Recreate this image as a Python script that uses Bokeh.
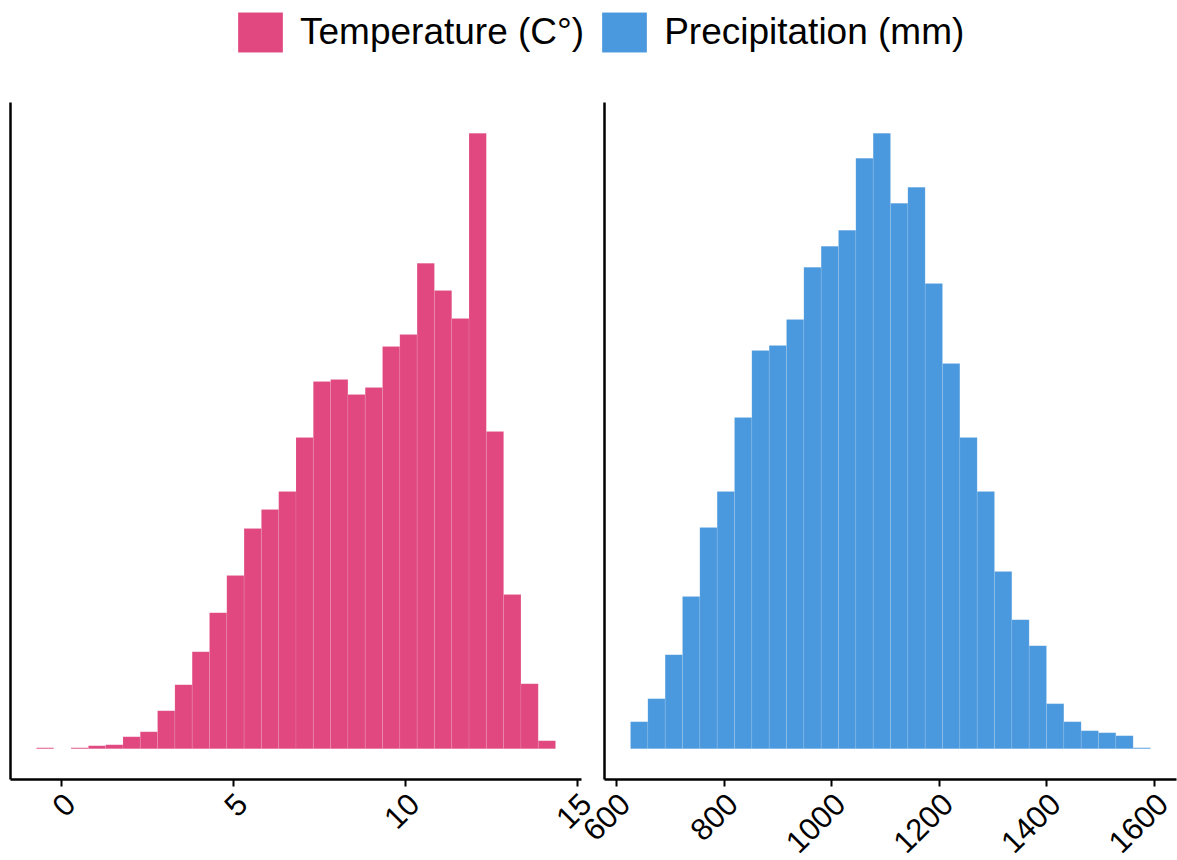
import numpy as np
from bokeh.plotting import figure
from bokeh.models import (Range1d, FixedTicker, Legend, LegendItem,
                          ColumnDataSource, LinearAxis)
from bokeh.embed import file_html
from bokeh.resources import INLINE

# ---------------- data ----------------
temp_counts = [1, 0, 1, 3, 4, 12, 17, 38, 64, 97, 136, 173, 220, 239, 257,
               311, 367, 369, 354, 361, 402, 414, 485, 458, 430, 615, 317,
               154, 65, 8]
temp_min, temp_max = -0.73, 14.36
temp_ticks = [0, 5, 10, 15]

precip_counts = [27, 50, 94, 152, 221, 257, 331, 398, 403, 429, 481, 502,
                 518, 590, 615, 545, 561, 465, 385, 311, 257, 177, 129, 103,
                 45, 27, 18, 16, 13, 1]
precip_min, precip_max = 626, 1592.5
precip_ticks = [600, 800, 1000, 1200, 1400, 1600]

series_names = ["Temperature (C°)", "Precipitation (mm)"]
colors = ["#E0487F", "#4A98DD"]

FONT = "Liberation Sans"

# ---------------- layout geometry (pixels, from top-left of the page) ----------------
FIG_W, FIG_H = 1177, 860
PANEL1_X = (10, 581)
PANEL2_X = (604, 1176)
PANEL_Y = (102, 779)      # top, bottom of both panels
LABEL_SHIFT = 8           # tick labels hang to the right of their tick (hjust=1 look)


def expanded(lo, hi, f=0.05):
    s = hi - lo
    return lo - f * s, hi + f * s


def x_frame_range(lo, hi, panel, shift=0):
    a, b = panel
    scale = (hi - lo) / (b - a)
    start = lo - (a + shift) * scale
    return Range1d(start, start + FIG_W * scale)


def y_frame_range(lo, hi, panel):
    t, b = panel
    scale = (hi - lo) / (b - t)
    end = hi + t * scale
    return Range1d(end - FIG_H * scale, end)


t_lo, t_hi = expanded(temp_min, temp_max)
p_lo, p_hi = expanded(precip_min, precip_max)
ty_lo, ty_hi = -0.05 * max(temp_counts), 1.05 * max(temp_counts)
py_lo, py_hi = -0.05 * max(precip_counts), 1.05 * max(precip_counts)

p = figure(width=FIG_W, height=FIG_H, output_backend="svg", toolbar_location=None,
           x_range=x_frame_range(t_lo, t_hi, PANEL1_X),
           y_range=y_frame_range(ty_lo, ty_hi, PANEL_Y),
           x_axis_location=None, y_axis_location=None, min_border=0)
p.extra_x_ranges = {
    "precip": x_frame_range(p_lo, p_hi, PANEL2_X),
    "temp_lbl": x_frame_range(t_lo, t_hi, PANEL1_X, LABEL_SHIFT),
    "precip_lbl": x_frame_range(p_lo, p_hi, PANEL2_X, LABEL_SHIFT),
}
p.extra_y_ranges = {"precip_y": y_frame_range(py_lo, py_hi, PANEL_Y)}
p.xgrid.visible = False
p.ygrid.visible = False
p.outline_line_color = None


def bars(counts, lo, hi, color, xr="default", yr="default"):
    counts = np.array(counts, dtype=float)
    edges = np.linspace(lo, hi, len(counts) + 1)
    src = ColumnDataSource(dict(left=edges[:-1], right=edges[1:],
                                top=counts, bottom=np.zeros(len(counts))))
    return p.quad(left="left", right="right", top="top", bottom="bottom", source=src,
                  fill_color=color, line_color="white", line_alpha=0.18, line_width=0.6,
                  x_range_name=xr, y_range_name=yr)


r1 = bars(temp_counts, temp_min, temp_max, colors[0])
r2 = bars(precip_counts, precip_min, precip_max, colors[1], "precip", "precip_y")


def x_line_axis(ticks, bounds, loc, xr, yr):
    ax = LinearAxis(x_range_name=xr, y_range_name=yr, bounds=bounds, fixed_location=loc)
    ax.ticker = FixedTicker(ticks=ticks)
    ax.axis_line_width = 2.5
    ax.axis_line_color = "black"
    ax.major_tick_line_width = 2
    ax.major_tick_line_color = "black"
    ax.major_tick_in = 0
    ax.major_tick_out = 7
    ax.minor_tick_line_color = None
    ax.major_label_overrides = {t: "" for t in ticks}
    ax.major_label_text_alpha = 0
    p.add_layout(ax, "below")


def x_label_axis(ticks, loc, xr, yr):
    ax = LinearAxis(x_range_name=xr, y_range_name=yr, fixed_location=loc)
    ax.ticker = FixedTicker(ticks=ticks)
    ax.axis_line_color = None
    ax.major_tick_line_color = None
    ax.minor_tick_line_color = None
    ax.major_tick_in = 0
    ax.major_tick_out = 7
    ax.major_label_orientation = np.pi / 4
    ax.major_label_text_font = FONT
    ax.major_label_text_font_size = "31px"
    ax.major_label_text_color = "black"
    ax.major_label_standoff = 12
    p.add_layout(ax, "below")


def y_line_axis(bounds, loc, xr, yr):
    ax = LinearAxis(x_range_name=xr, y_range_name=yr, bounds=bounds, fixed_location=loc)
    ax.ticker = FixedTicker(ticks=[])
    ax.axis_line_width = 2.5
    ax.axis_line_color = "black"
    ax.major_tick_out = 0
    ax.major_tick_in = 0
    ax.minor_tick_line_color = None
    ax.major_label_text_font_size = "0px"
    ax.major_label_standoff = 0
    p.add_layout(ax, "left")


x_line_axis(temp_ticks, (t_lo, t_hi), ty_lo, "default", "default")
x_label_axis(temp_ticks, ty_lo, "temp_lbl", "default")
x_line_axis(precip_ticks, (p_lo, p_hi), py_lo, "precip", "precip_y")
x_label_axis(precip_ticks, py_lo, "precip_lbl", "precip_y")
y_line_axis((ty_lo, ty_hi), t_lo, "default", "default")
y_line_axis((py_lo, py_hi), p_lo, "precip", "precip_y")

# ---------------- legend ----------------
leg = Legend(items=[LegendItem(label=series_names[0], renderers=[r1], index=0),
                    LegendItem(label=series_names[1], renderers=[r2], index=0)],
             orientation="horizontal", location=(232, 803),
             glyph_width=56, glyph_height=50, label_height=50,
             label_standoff=12, spacing=12, padding=0, margin=0,
             border_line_color=None, background_fill_alpha=0,
             label_text_font=FONT, label_text_font_size="37px",
             label_text_color="black")
p.add_layout(leg, "center")

open("out.html", "w").write(file_html(p, INLINE))
